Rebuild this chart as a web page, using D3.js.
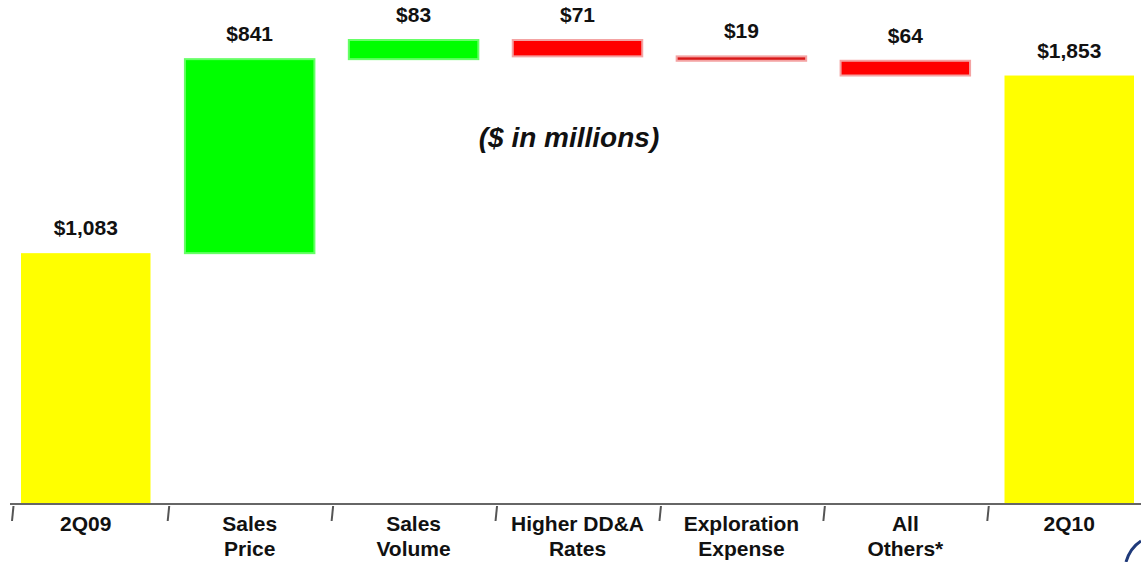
<!DOCTYPE html>
<html><head><meta charset="utf-8">
<script src="https://cdn.jsdelivr.net/npm/d3@7/dist/d3.min.js"></script>
<style>html,body{margin:0;padding:0;background:#fff;}svg{display:block;}</style>
</head><body>
<svg id="c" width="1141" height="562"></svg>
<script>
const categories = ["2Q09", "Sales Price", "Sales Volume", "Higher DD&A Rates", "Exploration Expense", "All Others*", "2Q10"];
const labelLines = [["2Q09"], ["Sales", "Price"], ["Sales", "Volume"], ["Higher DD&A", "Rates"], ["Exploration", "Expense"], ["All", "Others*"], ["2Q10"]];
const deltas = [1083, 841, 83, -71, -19, -64, 1853];
const kinds = ["total", "up", "up", "down", "down", "down", "total"];
const valueLabels = ["$1,083", "$841", "$83", "$71", "$19", "$64", "$1,853"];

// build waterfall segments
let run = 0;
const rows = categories.map((c, i) => {
  let y0, y1;
  if (kinds[i] === "total") { y0 = 0; y1 = deltas[i]; run = deltas[i]; }
  else { y0 = run; y1 = run + deltas[i]; run = y1; }
  return { cat: c, lines: labelLines[i], kind: kinds[i], lo: Math.min(y0, y1), hi: Math.max(y0, y1), label: valueLabels[i] };
});
const peak = d3.max(rows, d => d.hi);

const svg = d3.select("#c");
const baseY = 503;
const x = d3.scaleBand().domain(categories).range([21, 1134]).paddingInner(0.21).paddingOuter(0);
const y = d3.scaleLinear().domain([0, peak]).range([baseY, 40]);

const fill = { total: "#ffff00", up: "#00ff00", down: "#ff0000" };
const stroke = { total: "#ffff33", up: "#66ff66", down: "#f4a3a3" };
const font = "Liberation Sans, Arial, sans-serif";

svg.selectAll("rect.bar").data(rows).enter().append("rect")
  .attr("class", "bar")
  .attr("x", d => x(d.cat))
  .attr("width", x.bandwidth())
  .attr("y", d => y(d.hi))
  .attr("height", d => Math.max(4, y(d.lo) - y(d.hi)))
  .attr("fill", d => d.kind === "down" && d.hi - d.lo < 30 ? "#d81818" : fill[d.kind])
  .attr("stroke", d => stroke[d.kind])
  .attr("stroke-width", d => d.kind === "total" ? 0 : 2);

svg.selectAll("text.val").data(rows).enter().append("text")
  .attr("class", "val")
  .attr("x", d => x(d.cat) + x.bandwidth() / 2)
  .attr("y", d => y(d.hi) - 18)
  .attr("text-anchor", "middle")
  .attr("font-family", font)
  .attr("font-weight", "bold")
  .attr("font-size", 21)
  .attr("fill", "#111")
  .text(d => d.label);

// axis line
svg.append("line").attr("x1", 10).attr("x2", 1141).attr("y1", baseY + 1).attr("y2", baseY + 1)
  .attr("stroke", "#666").attr("stroke-width", 2);

// ticks between bands
const step = x.step();
const tickXs = [x(categories[0]) - 9].concat(categories.slice(0, -1).map(c => x(c) + x.bandwidth() + (step - x.bandwidth()) / 2));
svg.selectAll("line.tick").data(tickXs).enter().append("line")
  .attr("class", "tick")
  .attr("x1", d => d + 1.5).attr("x2", d => d)
  .attr("y1", baseY + 3).attr("y2", baseY + 18)
  .attr("stroke", "#555").attr("stroke-width", 2);

// category labels
const cl = svg.selectAll("text.cat").data(rows).enter().append("text")
  .attr("class", "cat")
  .attr("text-anchor", "middle")
  .attr("font-family", font)
  .attr("font-weight", "bold")
  .attr("font-size", 21)
  .attr("fill", "#111");
cl.each(function (d) {
  const t = d3.select(this);
  d.lines.forEach((ln, j) => {
    t.append("tspan").attr("x", x(d.cat) + x.bandwidth() / 2).attr("y", 531 + j * 25).text(ln);
  });
});

// subtitle
svg.append("text").attr("x", 569).attr("y", 147).attr("text-anchor", "middle")
  .attr("font-family", font)
  .attr("font-weight", "bold").attr("font-style", "italic").attr("font-size", 28)
  .attr("fill", "#111").text("($ in millions)");

// logo fragment in the corner
svg.append("path").attr("d", "M1126,562 Q1130,548 1141,541")
  .attr("fill", "none").attr("stroke", "#1f3a7a").attr("stroke-width", 3);
</script>
</body></html>
